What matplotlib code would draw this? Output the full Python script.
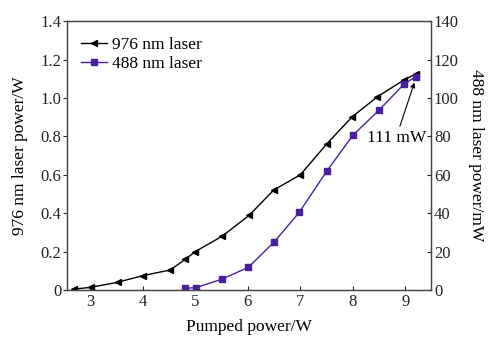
import matplotlib
matplotlib.use("Agg")
import matplotlib.pyplot as plt

plt.rcParams['font.family'] = ['Liberation Serif', 'DejaVu Serif']
plt.rcParams['font.size'] = 12

# Data
x_976 = [2.70, 3.01, 3.52, 4.00, 4.52, 4.81, 5.00, 5.51, 6.03, 6.49, 7.00, 7.50, 7.98, 8.46, 8.98, 9.20]
p_976 = [0.005, 0.014, 0.04, 0.075, 0.104, 0.16, 0.20, 0.28, 0.39, 0.52, 0.60, 0.76, 0.90, 1.005, 1.095, 1.125]
x_488 = [4.81, 5.01, 5.50, 6.01, 6.50, 6.98, 7.50, 8.00, 8.50, 8.98, 9.20]
p_488 = [0.9, 1.2, 5.6, 11.8, 25.0, 40.5, 61.8, 80.6, 93.7, 107.4, 111.0]
left_ticks = [0, 0.2, 0.4, 0.6, 0.8, 1.0, 1.2, 1.4]
left_labels = ['0', '0.2', '0.4', '0.6', '0.8', '1.0', '1.2', '1.4']
right_ticks = [0, 20, 40, 60, 80, 100, 120, 140]
x_ticks = [3, 4, 5, 6, 7, 8, 9]

purple = '#4a1f9e'
tick_fs = 12
label_fs = 12.5

fig = plt.figure(figsize=(4.9, 3.4), dpi=100)
ax = fig.add_axes([0.137, 0.147, 0.743, 0.791])
ax2 = ax.twinx()

l1, = ax.plot(x_976, p_976, color='black', marker='<', markersize=5, lw=1.0,
              label='976 nm laser')
l2, = ax2.plot(x_488, p_488, color=purple, marker='s', markersize=5, lw=1.0,
               markerfacecolor=purple, markeredgecolor=purple, label='488 nm laser')

ax.set_xlim(2.56, 9.49)
ax.set_ylim(0, 1.4)
ax2.set_ylim(0, 140)
ax.set_xticks(x_ticks)
ax.set_yticks(left_ticks)
ax.set_yticklabels(left_labels)
ax2.set_yticks(right_ticks)

ax.tick_params(axis='y', direction='out', length=3, width=0.8, pad=1, labelsize=tick_fs, colors='#222222')
ax.tick_params(axis='x', direction='in', length=3, width=0.8, pad=3, labelsize=tick_fs, colors='#222222')
ax2.tick_params(axis='y', direction='in', length=3, width=0.8, pad=2, labelsize=tick_fs, colors='#222222')

for a in (ax, ax2):
    for s in a.spines.values():
        s.set_linewidth(0.9)
        s.set_color('#444444')

ax.set_xlabel('Pumped power/W', fontsize=label_fs, labelpad=6)
ax.set_ylabel('976 nm laser power/W', fontsize=label_fs, labelpad=9)
ax2.set_ylabel('488 nm laser power/mW', fontsize=label_fs, rotation=270, labelpad=18)

ax2.annotate('111 mW', xy=(9.17, 108), xytext=(9.40, 79),
             ha='right', va='center', fontsize=label_fs,
             arrowprops=dict(arrowstyle='-|>', color='black', lw=0.8,
                             mutation_scale=7, shrinkA=1, shrinkB=0,
                             relpos=(0.52, 0.9)))

ax.legend(handles=[l1, l2], loc='upper left', frameon=False, fontsize=label_fs,
          handlelength=1.5, handletextpad=0.3, borderaxespad=0.5,
          labelspacing=0.15, bbox_to_anchor=(-0.005, 1.0))

fig.savefig('out.png', dpi=100)
